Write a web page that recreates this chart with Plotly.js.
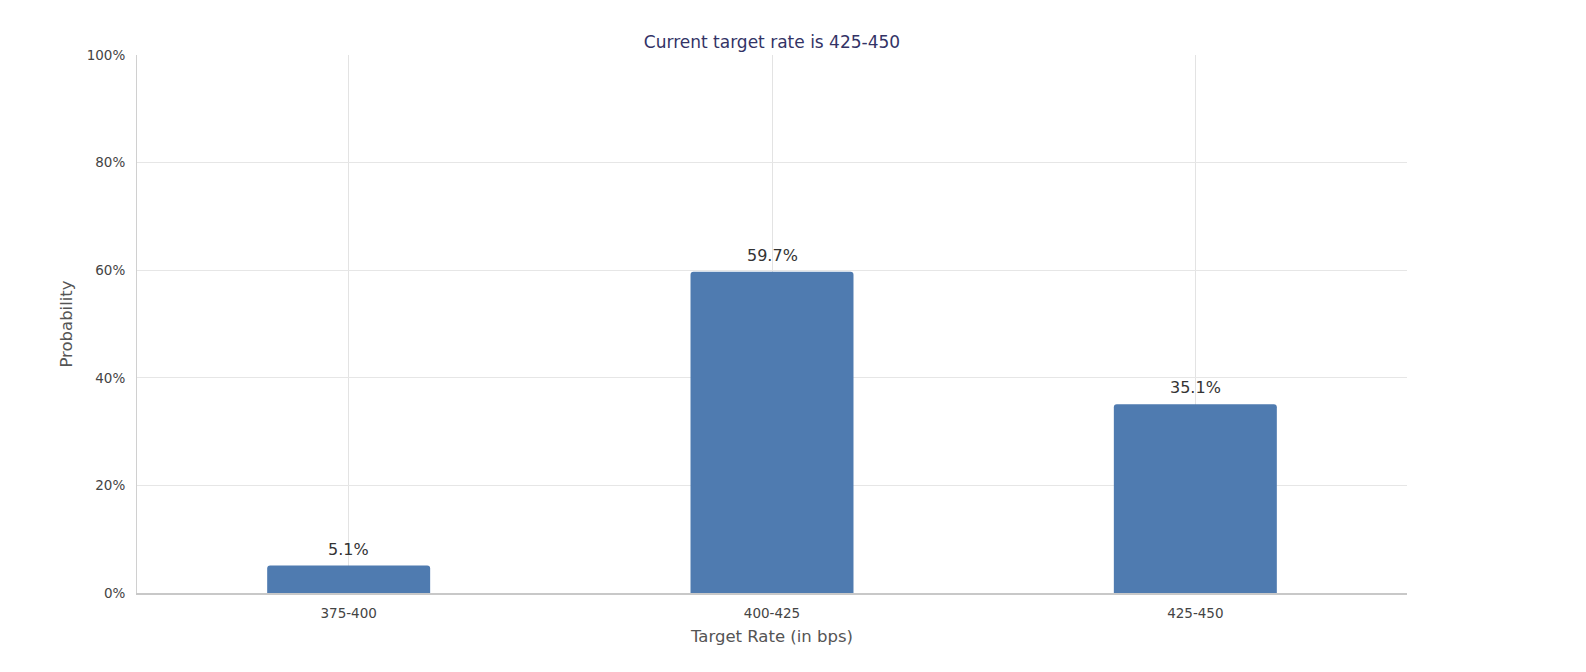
<!DOCTYPE html>
<html>
<head>
<meta charset="utf-8">
<script src="https://cdn.plot.ly/plotly-3.0.1.min.js"></script>
<style>
  html, body { margin: 0; padding: 0; background: #fff; }
  #chart { width: 1586px; height: 672px; }
</style>
</head>
<body>
<div id="chart"></div>
<script>
// target rate buckets and their probabilities
const rateBuckets = ['375-400', '400-425', '425-450'];
const probabilities = [5.1, 59.7, 35.1];
const chartTitle = 'Current target rate is 425-450';

const trace = {
  type: 'bar',
  x: rateBuckets,
  y: probabilities,
  marker: {color: '#4f7bb0', line: {width: 0}},
  width: 0.385,
  hoverinfo: 'x+y'
};

// value labels above bars
const labels = rateBuckets.map((b, i) => ({
  x: b,
  y: probabilities[i],
  xref: 'x', yref: 'y',
  text: probabilities[i].toFixed(1) + '%',
  showarrow: false,
  yanchor: 'bottom',
  yshift: 5,
  font: {family: 'DejaVu Sans', size: 16, color: '#333'}
}));

const layout = {
  width: 1586,
  height: 672,
  margin: {l: 137, r: 179, t: 55, b: 79},
  paper_bgcolor: '#fff',
  plot_bgcolor: '#fff',
  font: {family: 'DejaVu Sans', color: '#555'},
  barcornerradius: 3,
  title: {
    text: chartTitle,
    font: {family: 'DejaVu Sans', size: 17, color: '#333366'},
    x: 0.5, xref: 'paper',
    y: 0.937, yref: 'container', yanchor: 'middle'
  },
  xaxis: {
    type: 'category',
    showgrid: true,
    gridcolor: '#e3e3e3',
    showline: true,
    linecolor: '#c8c8c8',
    linewidth: 1.5,
    ticks: '',
    ticklabelstandoff: 7,
    tickfont: {size: 13.5, color: '#444'},
    title: {text: 'Target Rate (in bps)', font: {size: 16.5, color: '#555'}, standoff: 10}
  },
  yaxis: {
    range: [0, 100],
    dtick: 20,
    ticksuffix: '%',
    showgrid: true,
    gridcolor: '#e6e6e6',
    showline: true,
    linecolor: '#d0d0d0',
    zeroline: false,
    ticks: '',
    ticklabelstandoff: 8,
    tickfont: {size: 13.5, color: '#444'},
    title: {text: 'Probability', font: {size: 16.5, color: '#555'}, standoff: 9}
  },
  annotations: labels,
  showlegend: false
};

Plotly.newPlot('chart', [trace], layout, {displayModeBar: false, responsive: false});
</script>
</body>
</html>
